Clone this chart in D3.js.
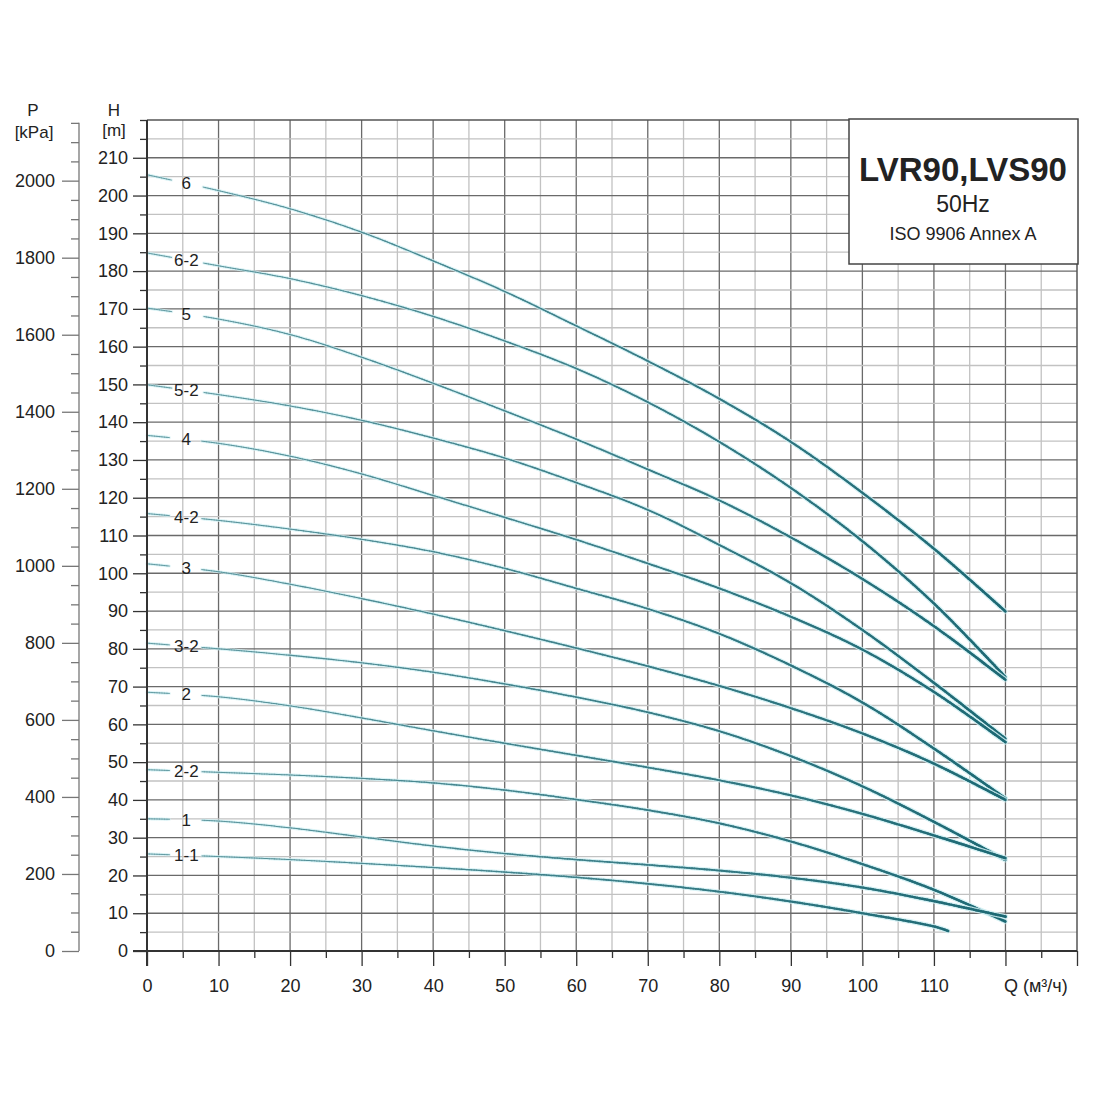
<!DOCTYPE html>
<html lang="en">
<head>
<meta charset="UTF-8">
<title>LVR90, LVS90 50Hz</title>
<script src="https://cdn.jsdelivr.net/npm/d3@7/dist/d3.min.js"></script>
<style>
  body { margin: 0; background: #fff; }
  text { font-family: "Liberation Sans", Arial, sans-serif; fill: #222; }
</style>
</head>
<body>
<script>
// flow points (m3/h) and head values (m)
var flowQ   = [0, 10, 20, 30, 40, 50, 60, 70, 80, 90, 100, 110, 120];
var flowQ11 = [0, 10, 20, 30, 40, 50, 60, 70, 80, 90, 100, 110, 112];

var head6   = [205.5, 201.3, 196.5, 190.3, 182.7, 174.6, 165.5, 156.2, 146.2, 134.8, 121.3, 106.5, 89.9];
var head6_2 = [184.8, 181.4, 178.0, 173.5, 168.0, 161.5, 154.2, 145.3, 134.8, 122.6, 108.5, 92.0, 72.5];
var head5   = [170.2, 167.3, 163.2, 157.2, 150.3, 143.0, 135.5, 127.5, 119.3, 109.5, 98.5, 86.0, 71.8];
var head5_2 = [149.9, 147.3, 144.3, 140.5, 135.8, 130.5, 124.0, 116.8, 107.5, 97.4, 85.0, 71.0, 56.2];
var head4   = [136.5, 134.4, 131.0, 126.3, 120.6, 114.8, 108.9, 102.6, 96.0, 88.5, 79.8, 68.6, 55.3];
var head4_2 = [115.8, 114.0, 111.7, 109.0, 105.7, 101.3, 96.0, 90.6, 84.0, 75.6, 65.8, 53.6, 40.4];
var head3   = [102.5, 100.4, 97.1, 93.3, 89.2, 84.8, 80.2, 75.4, 70.2, 64.3, 57.6, 49.6, 40.0];
var head3_2 = [81.5, 80.0, 78.3, 76.3, 73.8, 70.7, 67.2, 63.2, 58.2, 51.6, 43.6, 34.2, 24.1];
var head2   = [68.5, 67.3, 64.9, 61.7, 58.3, 55.0, 51.8, 48.6, 45.2, 41.2, 36.3, 30.6, 24.6];
var head2_2 = [48.0, 47.3, 46.6, 45.7, 44.5, 42.6, 40.1, 37.3, 33.8, 29.0, 23.0, 16.2, 7.8];
var head1   = [35.0, 34.4, 32.6, 30.2, 27.8, 25.8, 24.2, 22.8, 21.3, 19.4, 16.8, 13.2, 9.1];
var head1_1 = [25.7, 25.0, 24.2, 23.2, 22.1, 20.9, 19.5, 17.8, 15.7, 13.1, 10.0, 6.5, 5.3];

var curveNames = ["6", "6-2", "5", "5-2", "4", "4-2", "3", "3-2", "2", "2-2", "1", "1-1"];

var qTickLabels = [0, 10, 20, 30, 40, 50, 60, 70, 80, 90, 100, 110];
var hTickLabels = d3.range(0, 211, 10);
var pTickLabels = [0, 200, 400, 600, 800, 1000, 1200, 1400, 1600, 1800, 2000];

var titleLines = ["LVR90,LVS90", "50Hz", "ISO 9906 Annex A"];

var series = [
  { name: curveNames[0],  flow: flowQ,   head: head6 },
  { name: curveNames[1],  flow: flowQ,   head: head6_2 },
  { name: curveNames[2],  flow: flowQ,   head: head5 },
  { name: curveNames[3],  flow: flowQ,   head: head5_2 },
  { name: curveNames[4],  flow: flowQ,   head: head4 },
  { name: curveNames[5],  flow: flowQ,   head: head4_2 },
  { name: curveNames[6],  flow: flowQ,   head: head3 },
  { name: curveNames[7],  flow: flowQ,   head: head3_2 },
  { name: curveNames[8],  flow: flowQ,   head: head2 },
  { name: curveNames[9],  flow: flowQ,   head: head2_2 },
  { name: curveNames[10], flow: flowQ,   head: head1 },
  { name: curveNames[11], flow: flowQ11, head: head1_1 }
];

var ancho = 1100, alto = 1100;
var svg = d3.select("body").append("svg")
  .attr("width", ancho).attr("height", alto);

var x  = d3.scaleLinear().domain([0, 130]).range([147, 1077]);
var y  = d3.scaleLinear().domain([0, 220]).range([951, 120]);
var yP = d3.scaleLinear().domain([0, 220 * 9.80665]).range([951, 120]);

/* grid */
var grid = svg.append("g");
grid.selectAll("line.vg")
  .data(d3.range(5, 130, 5))
  .enter().append("line")
  .attr("x1", d => x(d)).attr("x2", d => x(d))
  .attr("y1", y(220)).attr("y2", y(0))
  .attr("stroke", d => d % 10 === 0 ? "#6a6a6a" : "#c2c2c2")
  .attr("stroke-width", 1.3);
grid.selectAll("line.hg")
  .data(d3.range(5, 220, 5))
  .enter().append("line")
  .attr("x1", x(0)).attr("x2", x(130))
  .attr("y1", d => y(d)).attr("y2", d => y(d))
  .attr("stroke", d => d % 10 === 0 ? "#6a6a6a" : "#c2c2c2")
  .attr("stroke-width", 1.3);

/* frame */
svg.append("line").attr("x1", x(0)).attr("x2", x(130)).attr("y1", y(220)).attr("y2", y(220))
  .attr("stroke", "#555").attr("stroke-width", 1.5);
svg.append("line").attr("x1", x(130)).attr("x2", x(130)).attr("y1", y(220)).attr("y2", y(0))
  .attr("stroke", "#555").attr("stroke-width", 1.5);

/* title box */
svg.append("rect")
  .attr("x", 849).attr("y", y(220) - 1).attr("width", 229).attr("height", 145)
  .attr("fill", "#fff").attr("stroke", "#444").attr("stroke-width", 1.5);
svg.append("text").attr("x", 963).attr("y", 181).attr("text-anchor", "middle")
  .attr("font-size", 33).attr("font-weight", "bold").attr("fill", "#111").text(titleLines[0]);
svg.append("text").attr("x", 963).attr("y", 212).attr("text-anchor", "middle")
  .attr("font-size", 23).text(titleLines[1]);
svg.append("text").attr("x", 963).attr("y", 240).attr("text-anchor", "middle")
  .attr("font-size", 18).text(titleLines[2]);

/* curves */
var line = d3.line()
  .x(d => x(d[0]))
  .y(d => y(d[1]))
  .curve(d3.curveCatmullRom.alpha(0.5));
var tint = d3.interpolateRgb("#5e979f", "#1d6974");
var gapStart = 3.3, gapEnd = 7.8, labelQ = 5.5;

var curves = svg.append("g");
series.forEach(function(s) {
  var pts = s.flow.map((q, i) => [q, s.head[i]]);
  var tmp = curves.append("path").attr("d", line(pts)).attr("fill", "none");
  var node = tmp.node();
  var L = node.getTotalLength();
  var samples = d3.range(0, L, 2.5).concat([L]).map(l => node.getPointAtLength(l));
  tmp.remove();

  var segs = [];
  for (var i = 0; i < samples.length - 1; i++) {
    var p0 = samples[i], p1 = samples[i + 1];
    var q = x.invert((p0.x + p1.x) / 2);
    if (q > gapStart && q < gapEnd) continue;
    segs.push({ p0: p0, p1: p1, t: Math.min(1, q / 120) });
  }
  curves.selectAll(null).data(segs).enter().append("line")
    .attr("x1", d => d.p0.x).attr("y1", d => d.p0.y)
    .attr("x2", d => d.p1.x).attr("y2", d => d.p1.y)
    .attr("stroke", "#cdeef3").attr("stroke-opacity", 0.55)
    .attr("stroke-linecap", "round")
    .attr("stroke-width", d => 3 + 2.2 * Math.pow(d.t, 1.4));
  curves.selectAll(null).data(segs).enter().append("line")
    .attr("x1", d => d.p0.x).attr("y1", d => d.p0.y)
    .attr("x2", d => d.p1.x).attr("y2", d => d.p1.y)
    .attr("stroke", d => tint(d.t))
    .attr("stroke-linecap", "round")
    .attr("stroke-width", d => 0.9 + 1.7 * Math.pow(d.t, 1.4));

  var hLabel = s.head[0] + (s.head[1] - s.head[0]) * (labelQ / s.flow[1]);
  curves.append("text")
    .attr("x", x(labelQ)).attr("y", y(hLabel))
    .attr("text-anchor", "middle").attr("dominant-baseline", "central")
    .attr("font-size", 17).attr("fill", "#1a1a1a")
    .text(s.name);
});

/* H axis */
var hAxis = svg.append("g").attr("transform", "translate(" + x(0) + ",0)");
hAxis.call(d3.axisLeft(y).tickValues(hTickLabels).tickSize(14).tickPadding(5).tickSizeOuter(0));
hAxis.append("g").call(d3.axisLeft(y).tickValues(d3.range(5, 220, 10).concat([220])).tickSize(7).tickFormat("").tickSizeOuter(0));
hAxis.selectAll(".domain").remove();
hAxis.selectAll("line").attr("stroke", "#333").attr("stroke-width", 1.3);
hAxis.selectAll("text").attr("font-size", 18).attr("fill", "#222")
  .attr("font-family", "'Liberation Sans', Arial, sans-serif");
svg.append("line").attr("x1", x(0)).attr("x2", x(0)).attr("y1", y(220)).attr("y2", y(0) + 15)
  .attr("stroke", "#333").attr("stroke-width", 2);

/* P axis */
var pAxis = svg.append("g").attr("transform", "translate(79,0)");
pAxis.call(d3.axisLeft(yP).tickValues(pTickLabels).tickSize(17).tickPadding(7)
  .tickFormat(d3.format("d")).tickSizeOuter(0));
pAxis.append("g").call(d3.axisLeft(yP)
  .tickValues(d3.range(50, 2200, 50).filter(v => v % 200 !== 0)).tickSize(8).tickFormat("").tickSizeOuter(0));
pAxis.selectAll(".domain").remove();
pAxis.selectAll("line").attr("stroke", "#777").attr("stroke-width", 1.3);
pAxis.selectAll("text").attr("font-size", 18).attr("fill", "#222")
  .attr("font-family", "'Liberation Sans', Arial, sans-serif");
svg.append("line").attr("x1", 79).attr("x2", 79).attr("y1", yP(2150)).attr("y2", yP(0))
  .attr("stroke", "#777").attr("stroke-width", 1.3);

/* Q axis */
var qAxis = svg.append("g").attr("transform", "translate(0," + y(0) + ")");
qAxis.call(d3.axisBottom(x).tickValues(qTickLabels).tickSize(15).tickPadding(13).tickSizeOuter(0));
qAxis.append("g").call(d3.axisBottom(x).tickValues([120, 130]).tickSize(15).tickFormat("").tickSizeOuter(0));
qAxis.append("g").call(d3.axisBottom(x).tickValues(d3.range(5, 130, 10)).tickSize(7).tickFormat("").tickSizeOuter(0));
qAxis.selectAll(".domain").remove();
qAxis.selectAll("line").attr("stroke", "#333").attr("stroke-width", 1.3);
qAxis.selectAll("text").attr("font-size", 18).attr("fill", "#222")
  .attr("font-family", "'Liberation Sans', Arial, sans-serif");
svg.append("line").attr("x1", x(0) - 14).attr("x2", x(130)).attr("y1", y(0)).attr("y2", y(0))
  .attr("stroke", "#333").attr("stroke-width", 2);

svg.append("text").attr("x", 1004).attr("y", 992).attr("font-size", 18).text("Q (м³/ч)");

/* axis titles */
svg.append("text").attr("x", 114).attr("y", 116).attr("text-anchor", "middle").attr("font-size", 17).text("H");
svg.append("text").attr("x", 114).attr("y", 136).attr("text-anchor", "middle").attr("font-size", 17).text("[m]");
svg.append("text").attr("x", 33).attr("y", 116).attr("text-anchor", "middle").attr("font-size", 17).text("P");
svg.append("text").attr("x", 34).attr("y", 138).attr("text-anchor", "middle").attr("font-size", 17).text("[kPa]");
</script>
</body>
</html>
